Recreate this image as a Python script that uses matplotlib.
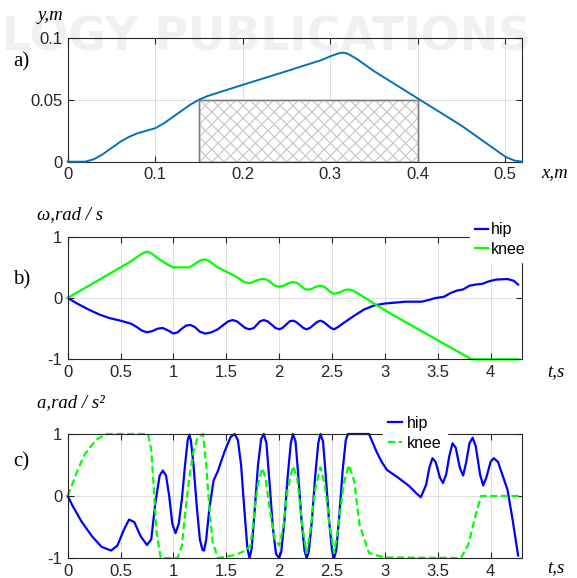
import numpy as np
import matplotlib
matplotlib.use("Agg")
import matplotlib.pyplot as plt
from matplotlib.patches import Rectangle

# ---------------- data ----------------
# a) foot trajectory y(x)
path_x = [0, 0.02, 0.03, 0.04, 0.05, 0.06, 0.07, 0.08, 0.09, 0.10, 0.11, 0.12, 0.13,
          0.14, 0.15, 0.16, 0.20, 0.25, 0.29, 0.30, 0.31, 0.315, 0.32, 0.33, 0.34, 0.35,
          0.40, 0.45, 0.48, 0.49, 0.50, 0.51, 0.519]
path_y = [0, 0, 0.002, 0.006, 0.011, 0.016, 0.020, 0.023, 0.025, 0.027, 0.031, 0.036, 0.041,
          0.046, 0.050, 0.053, 0.062, 0.073, 0.082, 0.085, 0.0875, 0.088, 0.087, 0.083, 0.078, 0.073,
          0.051, 0.029, 0.014, 0.009, 0.004, 0.001, 0.0]
obstacle_x = [0.15, 0.40]
obstacle_y = [0.0, 0.05]

# b) angular velocity
t_vel_hip = [0, 0.1, 0.2, 0.3, 0.4, 0.5, 0.6, 0.65, 0.7, 0.75, 0.8, 0.85, 0.9, 0.95, 1.0,
             1.04, 1.08, 1.12, 1.16, 1.2, 1.25, 1.3, 1.36, 1.42, 1.48, 1.52, 1.56, 1.60,
             1.64, 1.68, 1.72, 1.76, 1.79, 1.82, 1.855, 1.89, 1.93, 1.965, 2.0, 2.03, 2.065,
             2.10, 2.13, 2.16, 2.195, 2.23, 2.26, 2.29, 2.325, 2.36, 2.39, 2.42, 2.455, 2.49,
             2.52, 2.56, 2.6, 2.7, 2.8, 2.9, 3.0, 3.2, 3.35, 3.42, 3.48, 3.56, 3.62, 3.68,
             3.74, 3.8, 3.86, 3.92, 3.98, 4.05, 4.16, 4.22, 4.26]
vel_hip = [0, -0.1, -0.19, -0.27, -0.33, -0.37, -0.42, -0.47, -0.53, -0.56, -0.54, -0.5,
           -0.49, -0.53, -0.58, -0.56, -0.5, -0.45, -0.44, -0.47, -0.55, -0.58, -0.56, -0.51,
           -0.43, -0.38, -0.36, -0.38, -0.435, -0.49, -0.51, -0.49, -0.435, -0.38, -0.36,
           -0.38, -0.435, -0.49, -0.51, -0.49, -0.435, -0.38, -0.37, -0.39, -0.44, -0.49,
           -0.51, -0.49, -0.44, -0.39, -0.37, -0.39, -0.44, -0.49, -0.51, -0.47, -0.42, -0.3,
           -0.19, -0.12, -0.09, -0.06, -0.06, -0.03, 0.0, 0.02, 0.08, 0.12, 0.14, 0.2, 0.22,
           0.23, 0.27, 0.3, 0.31, 0.28, 0.22]
t_vel_knee = [0, 0.6, 0.7, 0.75, 0.8, 0.85, 0.95, 1.0, 1.15, 1.2, 1.25, 1.3, 1.35, 1.4, 1.5,
              1.6, 1.66, 1.7, 1.74, 1.78, 1.82, 1.855, 1.89, 1.93, 1.96, 2.0, 2.04, 2.08,
              2.13, 2.17, 2.21, 2.24, 2.27, 2.31, 2.35, 2.39, 2.43, 2.47, 2.5, 2.53, 2.57,
              2.62, 2.66, 2.7, 2.75, 3.0, 3.5, 3.82, 4.26]
vel_knee = [0, 0.6, 0.72, 0.76, 0.72, 0.65, 0.54, 0.5, 0.5, 0.55, 0.61, 0.63, 0.59, 0.52,
            0.43, 0.34, 0.27, 0.245, 0.25, 0.28, 0.305, 0.31, 0.295, 0.24, 0.2, 0.185, 0.2,
            0.235, 0.26, 0.245, 0.19, 0.15, 0.135, 0.15, 0.185, 0.2, 0.18, 0.12, 0.08, 0.07,
            0.09, 0.13, 0.14, 0.12, 0.07, -0.2, -0.69, -1.0, -1.0]

# c) angular acceleration
t_acc_hip = [0, 0.05, 0.13, 0.23, 0.32, 0.41, 0.47, 0.53, 0.58, 0.63, 0.69, 0.75, 0.79, 0.83,
             0.87, 0.9, 0.93, 0.96, 0.99, 1.02, 1.05, 1.08, 1.11, 1.135, 1.15, 1.165, 1.19,
             1.22, 1.25, 1.275, 1.29, 1.31, 1.34, 1.38, 1.42, 1.48, 1.54, 1.58, 1.61, 1.64,
             1.67, 1.70, 1.72, 1.74, 1.77, 1.80, 1.83, 1.855, 1.88, 1.91, 1.94, 1.97, 2.0,
             2.02, 2.05, 2.08, 2.11, 2.13, 2.155, 2.18, 2.21, 2.24, 2.26, 2.28, 2.31, 2.34,
             2.37, 2.39, 2.415, 2.44, 2.47, 2.50, 2.52, 2.54, 2.57, 2.60, 2.63, 2.65, 2.85,
             2.92, 2.97, 3.02, 3.13, 3.23, 3.30, 3.34, 3.39, 3.42, 3.45, 3.48, 3.52, 3.55,
             3.58, 3.61, 3.64, 3.67, 3.71, 3.74, 3.77, 3.80, 3.83, 3.86, 3.90, 3.93, 3.96,
             4.0, 4.03, 4.07, 4.12, 4.16, 4.21, 4.26]
acc_hip = [0, -0.17, -0.41, -0.65, -0.82, -0.88, -0.80, -0.55, -0.38, -0.42, -0.65, -0.79,
           -0.70, -0.1, 0.33, 0.41, 0.33, 0.0, -0.45, -0.6, -0.45, -0.05, 0.5, 0.9, 0.99,
           0.9, 0.5, -0.15, -0.7, -0.87, -0.88, -0.7, -0.2, 0.25, 0.4, 0.7, 0.95, 1.0, 0.9,
           0.5, -0.2, -0.85, -1.0, -0.85, -0.2, 0.5, 0.92, 1.0, 0.85, 0.2, -0.5, -0.93, -1.0,
           -0.9, -0.4, 0.3, 0.85, 1.0, 0.88, 0.35, -0.35, -0.88, -1.0, -0.9, -0.4, 0.3, 0.85,
           1.0, 0.88, 0.35, -0.35, -0.88, -1.0, -0.88, -0.3, 0.4, 0.9, 1.0, 1.0, 0.72, 0.55,
           0.42, 0.29, 0.16, 0.04, -0.02, 0.18, 0.45, 0.61, 0.55, 0.3, 0.21, 0.35, 0.65,
           0.85, 0.78, 0.45, 0.33, 0.55, 0.85, 0.94, 0.8, 0.35, 0.17, 0.3, 0.55, 0.61, 0.55,
           0.3, 0.1, -0.4, -0.96]
t_acc_knee = [0, 0.05, 0.09, 0.16, 0.27, 0.37, 0.76, 0.79, 0.81, 0.84, 0.88, 1.04, 1.08, 1.11,
              1.15, 1.19, 1.23, 1.28, 1.31, 1.34, 1.37, 1.42, 1.59, 1.68, 1.73, 1.77, 1.8,
              1.84, 1.87, 1.91, 1.96, 2.0, 2.04, 2.08, 2.13, 2.17, 2.22, 2.26, 2.3, 2.34, 2.39,
              2.43, 2.48, 2.52, 2.56, 2.61, 2.66, 2.71, 2.76, 2.85, 2.99, 3.72, 3.79, 3.86,
              3.91, 4.28]
acc_knee = [0, 0.22, 0.4, 0.67, 0.91, 1, 1, 0.75, 0.24, -0.57, -1, -1, -0.8, -0.3, 0.3, 0.72,
            0.95, 1, 0.5, -0.2, -0.73, -1, -0.95, -0.88, -0.8, -0.2, 0.2, 0.45, 0.3, -0.2,
            -0.7, -0.8, -0.5, 0.1, 0.48, 0.3, -0.5, -0.92, -0.5, 0.1, 0.46, 0.2, -0.5, -0.92,
            -0.5, 0.2, 0.5, 0.24, -0.46, -0.92, -0.99, -1, -0.78, -0.3, 0, 0]

xticks_a = [0, 0.1, 0.2, 0.3, 0.4, 0.5]
xticklabels_a = ["0", "0.1", "0.2", "0.3", "0.4", "0.5"]
yticks_a = [0, 0.05, 0.1]
yticklabels_a = ["0", "0.05", "0.1"]
xticks_t = [0, 0.5, 1, 1.5, 2, 2.5, 3, 3.5, 4]
xticklabels_t = ["0", "0.5", "1", "1.5", "2", "2.5", "3", "3.5", "4"]
yticks_t = [-1, 0, 1]
yticklabels_t = ["-1", "0", "1"]
legend_labels = ["hip", "knee"]

# ---------------- style ----------------
W, H = 577, 578
fig = plt.figure(figsize=(W / 100, H / 100), dpi=100)
SANS = "Liberation Sans"
SERIF = "Liberation Serif"
DARK = "#262626"
BLUE_A = "#0072BD"
BLUE = "#0000FF"
GREEN = "#00FF00"


def add_axes_px(left, top, right, bottom):
    return fig.add_axes([left / W, 1 - bottom / H, (right - left) / W, (bottom - top) / H])


def style(ax, xt, xtl, yt, ytl):
    ax.set_xticks(xt)
    ax.set_xticklabels(xtl, fontfamily=SANS, fontsize=12)
    ax.set_yticks(yt)
    ax.set_yticklabels(ytl, fontfamily=SANS, fontsize=12)
    for s in ax.spines.values():
        s.set_color(DARK)
        s.set_linewidth(0.8)
    ax.tick_params(direction="in", length=4, width=0.8, top=True, right=True,
                   colors=DARK, pad=4)
    ax.grid(True, color="#dedede", linewidth=0.7)
    ax.set_axisbelow(True)


def ftext(x, y, s, **kw):
    fig.text(x / W, 1 - y / H, s, **kw)


# faint watermark
ftext(2, 38, "LOGY PUBLICATIONS", fontsize=33, color="#f0f0f0", fontweight="bold",
      fontfamily="DejaVu Sans", va="center", ha="left", zorder=-10)

# ---- a) ----
axa = add_axes_px(67.7, 37.7, 522, 161.7)
axa.set_xlim(0, 0.519)
axa.set_ylim(0, 0.1)
style(axa, xticks_a, xticklabels_a, yticks_a, yticklabels_a)
axa.patch.set_alpha(0)
rect = Rectangle((obstacle_x[0], obstacle_y[0]), obstacle_x[1] - obstacle_x[0],
                 obstacle_y[1] - obstacle_y[0], facecolor="white", edgecolor="#7f7f7f",
                 linewidth=1.0, zorder=2)
axa.add_patch(rect)
# cross hatch drawn as +/-45 degree lines clipped to the obstacle rectangle
bb = axa.get_position()
pxx = bb.width * W / (0.519 - 0)
pxy = bb.height * H / (0.1 - 0)
slope = pxx / pxy
spacing = 12.5 / pxx
span = (obstacle_y[1] - obstacle_y[0]) / slope
for sgn in (1, -1):
    offs = np.arange(obstacle_x[0] - span - spacing, obstacle_x[1] + span + spacing, spacing)
    for o in offs:
        xx = np.array([o, o + span])
        yy = np.array([0, obstacle_y[1]]) if sgn == 1 else np.array([obstacle_y[1], 0])
        ln, = axa.plot(xx, yy, color="#c4c4c4", linewidth=0.8, zorder=2.1)
        ln.set_clip_path(rect)
axa.add_patch(Rectangle((obstacle_x[0], obstacle_y[0]), obstacle_x[1] - obstacle_x[0],
                        obstacle_y[1] - obstacle_y[0], facecolor="none",
                        edgecolor="#7f7f7f", linewidth=1.0, zorder=2.2))
axa.plot(path_x, path_y, color=BLUE_A, linewidth=1.4, zorder=3, clip_on=False)

ftext(38, 15, "y,m", fontfamily=SERIF, fontstyle="italic", fontsize=13.5, va="center", color="black")
ftext(13, 62, "a)", fontfamily=SERIF, fontsize=15, va="center", color="black")
ftext(541, 173, "x,m", fontfamily=SERIF, fontstyle="italic", fontsize=13.5, va="center", color="black")

# ---- b) ----
axb = add_axes_px(67.7, 236.7, 522.3, 359.3)
axb.set_xlim(0, 4.3)
axb.set_ylim(-1, 1)
style(axb, xticks_t, xticklabels_t, yticks_t, yticklabels_t)
axb.patch.set_alpha(0)
axb.plot(t_vel_hip, vel_hip, color=BLUE, linewidth=1.6, label=legend_labels[0], clip_on=False)
axb.plot(t_vel_knee, vel_knee, color=GREEN, linewidth=1.6, label=legend_labels[1], clip_on=False)
lb = axb.legend(loc="upper left", bbox_to_anchor=(0.885, 1.155), borderaxespad=0,
                frameon=True, facecolor="white", edgecolor="white", framealpha=1,
                fancybox=False, handlelength=0.85, handletextpad=0.15, labelspacing=0.28,
                borderpad=0.3, prop={"family": SANS, "size": 11.5})
lb.set_zorder(10)

ftext(37, 215, "ω,rad / s", fontfamily=SERIF, fontstyle="italic", fontsize=13.5, va="center", color="black")
ftext(13, 280, "b)", fontfamily=SERIF, fontsize=15, va="center", color="black")
ftext(547, 372, "t,s", fontfamily=SERIF, fontstyle="italic", fontsize=13.5, va="center", color="black")

# ---- c) ----
axc = add_axes_px(67.7, 434, 522.3, 558)
axc.set_xlim(0, 4.3)
axc.set_ylim(-1, 1)
style(axc, xticks_t, xticklabels_t, yticks_t, yticklabels_t)
axc.patch.set_alpha(0)
axc.plot(t_acc_hip, acc_hip, color=BLUE, linewidth=1.6, label=legend_labels[0], clip_on=False)
axc.plot(t_acc_knee, acc_knee, color=GREEN, linewidth=1.6, linestyle=(0, (3.2, 1.6)),
         label=legend_labels[1], clip_on=False)
lc = axc.legend(loc="upper left", bbox_to_anchor=(0.694, 1.185), borderaxespad=0,
                frameon=True, facecolor="white", edgecolor="white", framealpha=1,
                fancybox=False, handlelength=0.85, handletextpad=0.35, labelspacing=0.3,
                borderpad=0.3, prop={"family": SANS, "size": 11.5})
lc.set_zorder(10)

ftext(37, 403, "a,rad / s²", fontfamily=SERIF, fontstyle="italic", fontsize=13.5, va="center", color="black")
ftext(13, 462, "c)", fontfamily=SERIF, fontsize=15, va="center", color="black")
ftext(547, 568, "t,s", fontfamily=SERIF, fontstyle="italic", fontsize=13.5, va="center", color="black")

fig.savefig("out.png", dpi=100)
